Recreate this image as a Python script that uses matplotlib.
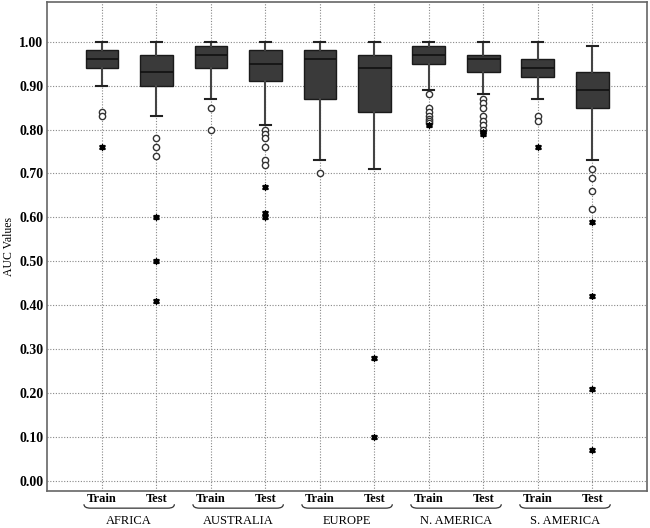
import matplotlib
matplotlib.use("Agg")
import matplotlib.pyplot as plt
from matplotlib.path import Path
from matplotlib.patches import PathPatch

plt.rcParams['font.family'] = ['Liberation Serif', 'DejaVu Serif']

regions = ["AFRICA", "AUSTRALIA", "EUROPE", "N. AMERICA", "S. AMERICA"]
sets = ["Train", "Test"]

# box stats per box: Africa train, Africa test, Australia train, ...
whis_hi = [1.00, 1.00, 1.00, 1.00, 1.00, 1.00, 1.00, 1.00, 1.00, 0.99]
q3 = [0.98, 0.97, 0.99, 0.98, 0.98, 0.97, 0.99, 0.97, 0.96, 0.93]
medians = [0.96, 0.93, 0.97, 0.95, 0.96, 0.94, 0.97, 0.96, 0.94, 0.89]
q1 = [0.94, 0.90, 0.94, 0.91, 0.87, 0.84, 0.95, 0.93, 0.92, 0.85]
whis_lo = [0.90, 0.83, 0.87, 0.81, 0.73, 0.71, 0.89, 0.88, 0.87, 0.73]

# outliers (circles) and extremes (stars)
outliers = [
    [0.84, 0.83],
    [0.78, 0.76, 0.74],
    [0.85, 0.80],
    [0.80, 0.79, 0.78, 0.76, 0.73, 0.72],
    [0.70],
    [],
    [0.88, 0.85, 0.84, 0.83, 0.825, 0.82, 0.815],
    [0.87, 0.86, 0.85, 0.83, 0.82, 0.81, 0.80],
    [0.83, 0.82],
    [0.71, 0.69, 0.66, 0.62],
]
extremes = [
    [0.76],
    [0.60, 0.50, 0.41],
    [],
    [0.67, 0.61, 0.60],
    [],
    [0.28, 0.10],
    [0.81],
    [0.795, 0.79],
    [0.76],
    [0.59, 0.42, 0.21, 0.07],
]

fig = plt.figure(figsize=(6.5, 5.28), dpi=100)
ax = fig.add_axes([0.073, 0.070, 0.922, 0.926])

stats = []
for i in range(len(medians)):
    stats.append({"med": medians[i], "q1": q1[i], "q3": q3[i],
                  "whislo": whis_lo[i], "whishi": whis_hi[i], "fliers": []})

pos = list(range(1, len(medians) + 1))
ax.bxp(stats, positions=pos, widths=0.6, patch_artist=True, showfliers=False,
       boxprops=dict(facecolor="#3a3a3a", edgecolor="#1a1a1a", linewidth=1.0),
       medianprops=dict(color="#111111", linewidth=1.2),
       whiskerprops=dict(color="#444444", linewidth=1.5),
       capprops=dict(color="#222222", linewidth=1.5),
       capwidths=0.2, zorder=3)

for p, vals in zip(pos, outliers):
    ax.plot([p] * len(vals), vals, "o", mfc="white", mec="#333333",
            ms=4.5, mew=1.0, zorder=4)
for p, vals in zip(pos, extremes):
    ax.plot([p] * len(vals), vals, "s", color="black", ms=2.5, zorder=4)
    ax.plot([p] * len(vals), vals, marker=(6, 2, 0), color="black",
            ms=5, mew=0.7, ls="none", zorder=4)

ax.set_xlim(0, 11)
ax.set_ylim(-0.023, 1.09)
ax.set_yticks([i / 10 for i in range(11)])
ax.set_yticklabels([f"{i / 10:.2f}" for i in range(11)],
                   fontweight="bold", fontsize=10)
ax.set_xticks(pos)
ax.set_xticklabels([])
ax.tick_params(length=0, pad=3)
ax.grid(True, linestyle=(0, (1, 1.5)), color="#888888", linewidth=0.8)
ax.set_axisbelow(True)
for s in ax.spines.values():
    s.set_color("#666666")
    s.set_linewidth(1.2)

ax.set_ylabel("AUC Values", fontsize=8.5, labelpad=3)

trans = ax.get_xaxis_transform()
for g, name in enumerate(regions):
    a, b = 2 * g + 1, 2 * g + 2
    ax.text(a, -0.017, sets[0], transform=trans, ha="center", va="center",
            fontsize=9, fontweight="bold")
    ax.text(b, -0.017, sets[1], transform=trans, ha="center", va="center",
            fontsize=9, fontweight="bold")
    ax.text((a + b) / 2, -0.061, name, transform=trans, ha="center",
            va="center", fontsize=9)
    # brace under the pair
    l, r = a - 0.33, b + 0.33
    yt, yb = -0.027, -0.035
    verts = [(l, yt), (l, yb), (l + 0.12, yb), (r - 0.12, yb), (r, yb), (r, yt)]
    codes = [Path.MOVETO, Path.CURVE3, Path.CURVE3, Path.LINETO, Path.CURVE3, Path.CURVE3]
    ax.add_patch(PathPatch(Path(verts, codes), transform=trans, fill=False,
                           edgecolor="#333333", linewidth=0.9, clip_on=False))

fig.savefig("out.png", dpi=100)
